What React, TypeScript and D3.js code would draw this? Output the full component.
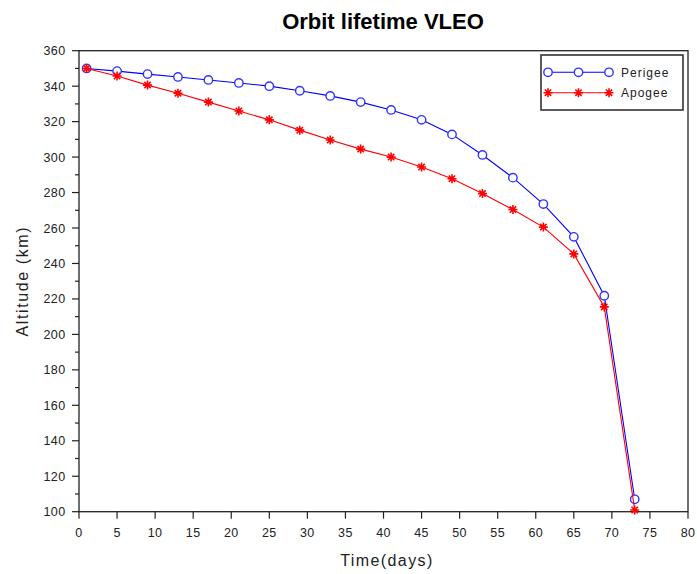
import React from "react";
import * as d3 from "d3";

const days = [1, 5, 9, 13, 17, 21, 25, 29, 33, 37, 41, 45, 49, 53, 57, 61, 65, 69, 73];
const perigee = [350, 348.5, 346.8, 345.2, 343.5, 341.8, 340, 337.4, 334.5, 331, 326.6, 321, 312.8, 301.2, 288.4, 273.5, 255, 221.8, 107];
const apogee = [350, 345.7, 340.6, 336, 331, 326, 321, 315.2, 309.6, 304.5, 300, 294.4, 287.8, 279.4, 270.4, 260.5, 245.4, 215.5, 101];
const xTicks = d3.range(0, 81, 5);
const yTicks = d3.range(100, 361, 20);
const yMinor = d3.range(110, 360, 20);

const W = 697, H = 574;
const L = 79, R = 688, T = 50.7, B = 511.7;
const FONT = "'Liberation Sans', Arial, sans-serif";

function Star({ x, y, s = 4.5 }: { x: number; y: number; s?: number }) {
  const d = [0, 45, 90, 135].map((a) => {
    const r = (a * Math.PI) / 180;
    return `M${x - s * Math.cos(r)},${y - s * Math.sin(r)}L${x + s * Math.cos(r)},${y + s * Math.sin(r)}`;
  }).join("");
  return <path d={d} stroke="#ff0000" strokeWidth={1.6} fill="none" />;
}

export default function App() {
  const x = d3.scaleLinear().domain([0, 80]).range([L, R]);
  const y = d3.scaleLinear().domain([100, 360]).range([B, T]);
  const lineP = d3.line<number>().x((_, i) => x(days[i])).y((v) => y(v));
  const pd = lineP(perigee) || "";
  const ad = lineP(apogee) || "";
  return (
    <svg width={W} height={H} style={{ position: "absolute", left: 0, top: 0, background: "#fff" }} fontFamily={FONT}>
      <rect x={0} y={0} width={W} height={H} fill="#fff" />
      <text x={383} y={29} textAnchor="middle" fontSize={22} fontWeight="bold" fill="#000">Orbit lifetime VLEO</text>
      {/* frame */}
      <rect x={L} y={T} width={R - L} height={B - T} fill="none" stroke="#222" strokeWidth={1.3} />
      {xTicks.map((t) => (
        <g key={"x" + t}>
          <line x1={x(t)} x2={x(t)} y1={B} y2={B + 7} stroke="#222" strokeWidth={1.2} />
          <text x={x(t)} y={B + 25} textAnchor="middle" fontSize={12.5} letterSpacing={0.4} fill="#222">{t}</text>
        </g>
      ))}
      {yTicks.map((t) => (
        <g key={"y" + t}>
          <line x1={L - 7} x2={L} y1={y(t)} y2={y(t)} stroke="#222" strokeWidth={1.2} />
          <text x={L - 13.5} y={y(t) + 4.5} textAnchor="end" fontSize={12.5} letterSpacing={0.4} fill="#222">{t}</text>
        </g>
      ))}
      {yMinor.map((t) => (
        <line key={"m" + t} x1={L - 4} x2={L} y1={y(t)} y2={y(t)} stroke="#222" strokeWidth={1.2} />
      ))}
      <text x={387} y={566} textAnchor="middle" fontSize={16} letterSpacing={1.4} fill="#222">Time(days)</text>
      <text transform={`translate(28,${(T + B) / 2}) rotate(-90)`} textAnchor="middle" fontSize={16} letterSpacing={1.6} fill="#222">Altitude (km)</text>
      {/* perigee */}
      <path d={pd} fill="none" stroke="#0000ff" strokeWidth={1.1} />
      {perigee.map((v, i) => (
        <circle key={"p" + i} cx={x(days[i])} cy={y(v)} r={4.2} fill="#fff" stroke="#3333ff" strokeWidth={1.4} />
      ))}
      {/* apogee */}
      <path d={ad} fill="none" stroke="#ff0000" strokeWidth={1.1} />
      {apogee.map((v, i) => (
        <Star key={"a" + i} x={x(days[i])} y={y(v)} />
      ))}
      {/* legend */}
      <rect x={541} y={55} width={142} height={55} fill="#fff" stroke="#333" strokeWidth={1.6} />
      <line x1={548} x2={609} y1={72.3} y2={72.3} stroke="#0000ff" strokeWidth={1.1} />
      {[548, 578.5, 609].map((cx) => (
        <circle key={"lc" + cx} cx={cx} cy={72.3} r={4.2} fill="#fff" stroke="#3333ff" strokeWidth={1.4} />
      ))}
      <text x={621} y={76.5} fontSize={12} letterSpacing={1} fill="#222">Perigee</text>
      <line x1={548} x2={609} y1={92.7} y2={92.7} stroke="#ff0000" strokeWidth={1.1} />
      {[548, 578.5, 609].map((cx) => (
        <Star key={"ls" + cx} x={cx} y={92.7} />
      ))}
      <text x={621} y={97} fontSize={12} letterSpacing={1} fill="#222">Apogee</text>
    </svg>
  );
}
